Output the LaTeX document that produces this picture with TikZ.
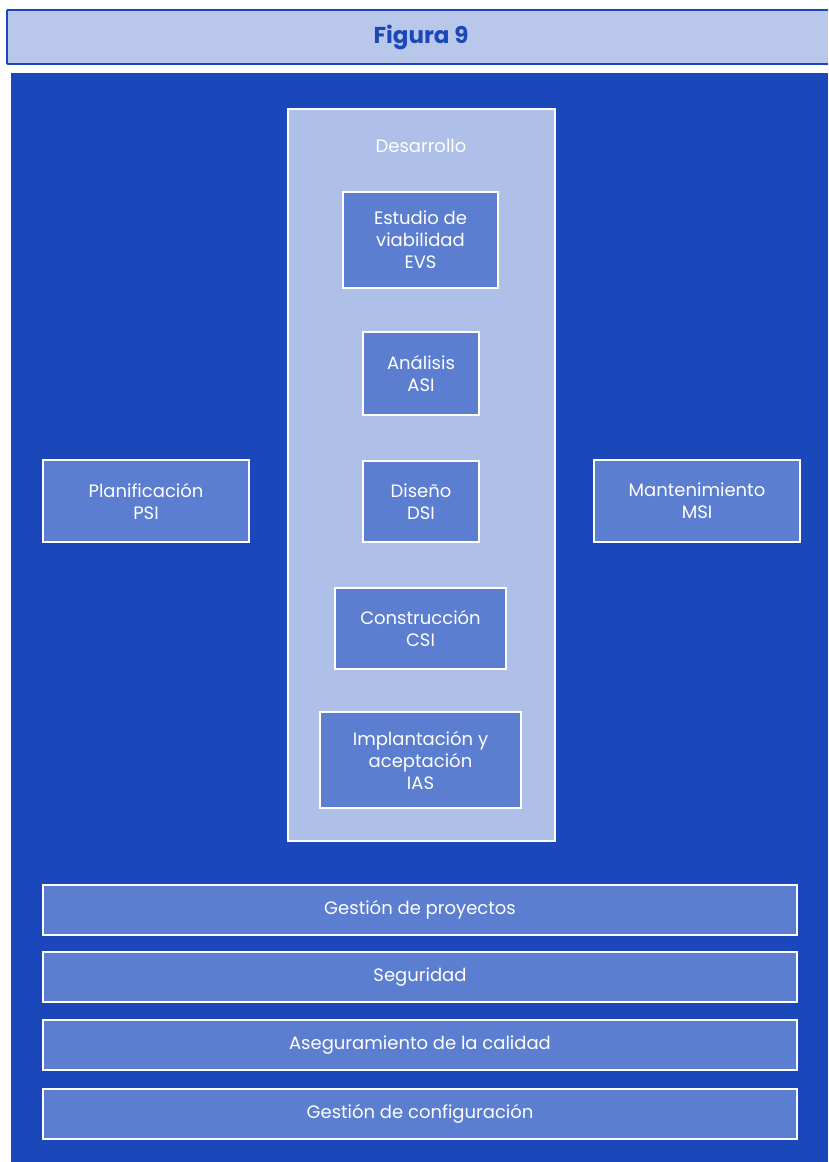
\documentclass[tikz,border=0pt]{standalone}
\usepackage{fontspec}
\setmainfont{Poppins}
\begin{document}
\begin{tikzpicture}[x=1pt,y=-1pt,
  every node/.style={inner sep=0pt,outer sep=0pt},
  hdr/.style={draw=none,fill=hdrfill},
  box/.style={draw=white,line width=2.4pt,fill=boxfill,text=white,align=center,
    font=\fontsize{18}{22}\selectfont},
  devbox/.style={draw=white,line width=2.4pt,fill=devfill},
]
\definecolor{mainblue}{HTML}{1A48BA}
\definecolor{hdrfill}{HTML}{B9C8EA}
\definecolor{boxfill}{HTML}{5B7ED0}
\definecolor{devfill}{HTML}{AEC0E8}
\useasboundingbox (0,0) rectangle (828,1162);
\fill[white] (0,0) rectangle (828,1162);
% header
\node[hdr,minimum width=821pt,minimum height=54pt,anchor=north west] (head) at (7,10) {};
\draw[mainblue,line width=2.8pt] (head.north west) -- (head.north east);
\draw[mainblue,line width=2.8pt] (head.south west) -- (head.south east);
\draw[mainblue,line width=2.8pt] (head.north west) -- (head.south west);
\node[text=mainblue,font=\fontsize{23}{26}\selectfont\bfseries] (title) at (421,37) {Figura 9};
% main panel
\node[fill=mainblue,minimum width=817pt,minimum height=1089pt,anchor=north west] (panel) at (11,73) {};
% development container
\node[devbox,minimum width=267pt,minimum height=732pt,anchor=north west] (dev) at (288,109) {};
\node[text=white,font=\fontsize{18}{22}\selectfont] (devlabel) at (421,146) {Desarrollo};
\node[box,minimum width=155pt,minimum height=96pt] (evs) at (420.5,240) {Estudio de\\viabilidad\\EVS};
\node[box,minimum width=116pt,minimum height=83pt] (asi) at (421,373.5) {Análisis\\ASI};
\node[box,minimum width=116pt,minimum height=81pt] (dsi) at (421,501.5) {Diseño\\DSI};
\node[box,minimum width=171pt,minimum height=81pt] (csi) at (420.5,628.5) {Construcción\\CSI};
\node[box,minimum width=201pt,minimum height=96pt] (ias) at (420.5,760) {Implantación y\\aceptación\\IAS};
% side boxes
\node[box,minimum width=206pt,minimum height=82pt] (psi) at (146,501) {Planificación\\PSI};
\node[box,minimum width=206pt,minimum height=82pt] (msi) at (697,501) {Mantenimiento\\MSI};
% bottom bars
\node[box,minimum width=754pt,minimum height=50pt] (gp) at (420,910) {Gestión de proyectos};
\node[box,minimum width=754pt,minimum height=50pt] (seg) at (420,977) {Seguridad};
\node[box,minimum width=754pt,minimum height=50pt] (aseg) at (420,1045) {Aseguramiento de la calidad};
\node[box,minimum width=754pt,minimum height=50pt] (gc) at (420,1114) {Gestión de configuración};
\end{tikzpicture}
\end{document}
